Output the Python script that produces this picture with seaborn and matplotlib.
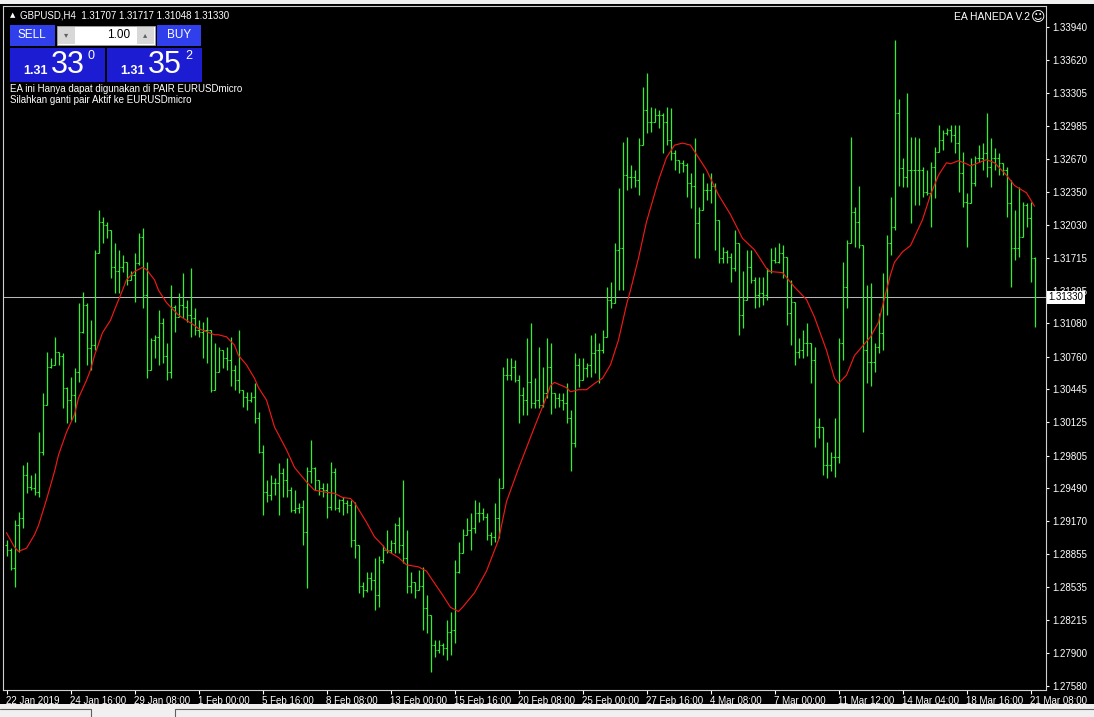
import numpy as np
import pandas as pd
import matplotlib
matplotlib.use("Agg")
import matplotlib.pyplot as plt
import matplotlib.transforms as mtransforms
from matplotlib.patches import Rectangle
from matplotlib.lines import Line2D
import seaborn as sns

# ---------------- data (GBPUSD H4) ----------------
close = [
    1.2889,1.2872,1.2913,1.2920,1.2962,1.2950,1.2949,1.2945,1.2984,1.3029,1.3066,1.3068,1.3080,1.3077,1.3046,1.3034,
    1.3039,1.3061,1.3100,1.3126,1.3084,1.3087,1.3176,1.3206,1.3203,1.3198,1.3162,1.3159,1.3162,1.3167,1.3150,1.3155,
    1.3166,1.3191,1.3135,1.3063,1.3092,1.3095,1.3108,1.3077,1.3061,1.3124,1.3114,1.3126,1.3124,1.3116,1.3113,1.3102,
    1.3100,1.3102,1.3102,1.3044,1.3061,1.3082,1.3075,1.3073,1.3063,1.3053,1.3044,1.3037,1.3034,1.3037,1.3017,1.2984,
    1.2945,1.2942,1.2954,1.2954,1.2964,1.2957,1.2947,1.2928,1.2930,1.2931,1.2907,1.2966,1.2968,1.2957,1.2949,1.2947,
    1.2931,1.2965,1.2930,1.2938,1.2935,1.2933,1.2899,1.2894,1.2855,1.2851,1.2862,1.2860,1.2846,1.2880,1.2889,1.2889,
    1.2896,1.2913,1.2894,1.2882,1.2855,1.2858,1.2851,1.2855,1.2833,1.2827,1.2798,1.2793,1.2798,1.2795,1.2810,1.2812,
    1.2868,1.2886,1.2904,1.2909,1.2911,1.2925,1.2925,1.2921,1.2904,1.2902,1.2920,1.2949,1.3058,1.3058,1.3066,1.3053,
    1.3039,1.3034,1.3051,1.3031,1.3034,1.3029,1.3041,1.3066,1.3041,1.3036,1.3034,1.3031,1.3017,1.2993,1.3068,1.3053,
    1.3065,1.3068,1.3079,1.3082,1.3082,1.3095,1.3131,1.3128,1.3179,1.3181,1.3251,1.3249,1.3249,1.3246,1.3280,1.3314,
    1.3302,1.3302,1.3309,1.3309,1.3302,1.3285,1.3272,1.3266,1.3263,1.3261,1.3243,1.3241,1.3205,1.3217,1.3237,1.3237,
    1.3241,1.3208,1.3171,1.3177,1.3172,1.3161,1.3186,1.3116,1.3131,1.3162,1.3150,1.3135,1.3137,1.3135,1.3159,1.3169,
    1.3167,1.3176,1.3172,1.3118,1.3129,1.3080,1.3082,1.3089,1.3089,1.3073,1.3008,1.3008,1.2971,1.2971,1.2979,1.2979,
    1.3089,1.3143,1.3186,1.3215,1.3206,1.3184,1.3082,1.3071,1.3071,1.3085,1.3099,1.3133,1.3186,1.3201,1.3311,1.3258,
    1.3249,1.3256,1.3256,1.3256,1.3256,1.3235,1.3234,1.3259,1.3273,1.3285,1.3292,1.3295,1.3290,1.3282,1.3253,1.3225,
    1.3224,1.3243,1.3268,1.3268,1.3272,1.3259,1.3268,1.3268,1.3263,1.3256,1.3224,1.3181,1.3181,1.3191,1.3222,1.3210,
    1.3171,1.31330,
]
open_ = [1.2894] + close[:-2] + [1.31707]

high = [
    1.2899,1.2891,1.2918,1.2926,1.2971,1.2974,1.2962,1.2964,1.3003,1.3041,1.3080,1.3075,1.3095,1.3080,1.3079,1.3047,
    1.3056,1.3065,1.3128,1.3138,1.3128,1.3111,1.3179,1.3217,1.3211,1.3206,1.3198,1.3186,1.3179,1.3174,1.3167,1.3159,
    1.3176,1.3195,1.3200,1.3167,1.3094,1.3097,1.3121,1.3113,1.3089,1.3145,1.3126,1.3137,1.3157,1.3131,1.3161,1.3123,
    1.3111,1.3109,1.3114,1.3102,1.3089,1.3085,1.3082,1.3085,1.3095,1.3068,1.3102,1.3044,1.3042,1.3042,1.3050,1.3022,
    1.2991,1.2957,1.2962,1.2959,1.2973,1.2968,1.2978,1.2950,1.2947,1.2935,1.2938,1.2969,1.2995,1.2969,1.2957,1.2954,
    1.2954,1.2974,1.2968,1.2939,1.2940,1.2938,1.2938,1.2936,1.2894,1.2858,1.2868,1.2868,1.2882,1.2884,1.2894,1.2909,
    1.2899,1.2915,1.2921,1.2957,1.2909,1.2868,1.2858,1.2870,1.2873,1.2846,1.2827,1.2802,1.2802,1.2800,1.2822,1.2829,
    1.2880,1.2897,1.2910,1.2920,1.2925,1.2938,1.2936,1.2930,1.2925,1.2907,1.2935,1.2959,1.3066,1.3075,1.3075,1.3073,
    1.3058,1.3047,1.3094,1.3108,1.3055,1.3085,1.3066,1.3094,1.3089,1.3041,1.3041,1.3041,1.3050,1.3024,1.3079,1.3075,
    1.3075,1.3070,1.3097,1.3099,1.3089,1.3102,1.3143,1.3148,1.3186,1.3239,1.3283,1.3288,1.3261,1.3256,1.3287,1.3336,
    1.3350,1.3317,1.3316,1.3314,1.3311,1.3317,1.3316,1.3275,1.3266,1.3266,1.3263,1.3253,1.3287,1.3220,1.3253,1.3243,
    1.3253,1.3243,1.3208,1.3182,1.3179,1.3176,1.3198,1.3186,1.3159,1.3179,1.3179,1.3153,1.3153,1.3153,1.3161,1.3181,
    1.3182,1.3186,1.3184,1.3172,1.3150,1.3129,1.3094,1.3102,1.3108,1.3089,1.3085,1.3017,1.3008,1.2994,1.2984,1.3017,
    1.3094,1.3167,1.3188,1.3288,1.3220,1.3241,1.3184,1.3145,1.3147,1.3089,1.3118,1.3157,1.3193,1.3230,1.3381,1.3325,
    1.3268,1.3330,1.3288,1.3288,1.3287,1.3259,1.3256,1.3264,1.3278,1.3299,1.3295,1.3297,1.3299,1.3299,1.3299,1.3273,
    1.3234,1.3268,1.3270,1.3280,1.3282,1.3311,1.3287,1.3277,1.3272,1.3263,1.3259,1.3246,1.3217,1.3240,1.3225,1.3224,
    1.3225,1.31717,
]

low = [
    1.2884,1.2870,1.2854,1.2887,1.2911,1.2944,1.2947,1.2942,1.2940,1.2981,1.3029,1.3065,1.3068,1.3068,1.3026,1.3012,
    1.3015,1.3013,1.3051,1.3099,1.3068,1.3063,1.3082,1.3176,1.3186,1.3190,1.3152,1.3137,1.3137,1.3158,1.3145,1.3150,
    1.3129,1.3164,1.3123,1.3055,1.3063,1.3075,1.3068,1.3070,1.3053,1.3055,1.3100,1.3114,1.3113,1.3109,1.3095,1.3097,
    1.3095,1.3075,1.3070,1.3042,1.3044,1.3061,1.3065,1.3063,1.3048,1.3044,1.3041,1.3027,1.3024,1.3032,1.3012,1.2983,
    1.2923,1.2936,1.2938,1.2942,1.2923,1.2940,1.2940,1.2926,1.2925,1.2925,1.2894,1.2853,1.2954,1.2947,1.2942,1.2940,
    1.2920,1.2928,1.2928,1.2926,1.2923,1.2925,1.2892,1.2882,1.2848,1.2844,1.2849,1.2851,1.2831,1.2834,1.2877,1.2886,
    1.2886,1.2886,1.2886,1.2877,1.2848,1.2848,1.2843,1.2851,1.2812,1.2809,1.2772,1.2786,1.2790,1.2788,1.2783,1.2788,
    1.2800,1.2867,1.2886,1.2904,1.2889,1.2906,1.2916,1.2918,1.2899,1.2894,1.2897,1.2901,1.2949,1.3053,1.3053,1.3051,
    1.3012,1.3020,1.3020,1.3026,1.3026,1.3026,1.3027,1.3036,1.3021,1.3026,1.3027,1.3024,1.3012,1.2966,1.2989,1.3047,
    1.3053,1.3056,1.3056,1.3060,1.3050,1.3079,1.3095,1.3123,1.3128,1.3140,1.3140,1.3237,1.3239,1.3240,1.3232,1.3280,
    1.3292,1.3293,1.3302,1.3297,1.3272,1.3280,1.3266,1.3256,1.3253,1.3254,1.3230,1.3219,1.3171,1.3171,1.3217,1.3227,
    1.3224,1.3179,1.3166,1.3166,1.3166,1.3148,1.3159,1.3097,1.3104,1.3131,1.3147,1.3123,1.3124,1.3126,1.3131,1.3157,
    1.3166,1.3166,1.3152,1.3106,1.3087,1.3068,1.3075,1.3075,1.3077,1.3050,1.2989,1.2997,1.2962,1.2959,1.2966,1.2960,
    1.2973,1.3073,1.3123,1.3186,1.3182,1.3181,1.3003,1.3050,1.3048,1.3061,1.3079,1.3082,1.3116,1.3174,1.3198,1.3241,
    1.3240,1.3240,1.3205,1.3222,1.3222,1.3230,1.3232,1.3201,1.3229,1.3273,1.3275,1.3290,1.3283,1.3272,1.3235,1.3220,
    1.3182,1.3224,1.3241,1.3264,1.3256,1.3249,1.3240,1.3256,1.3251,1.3251,1.3211,1.3143,1.3169,1.3172,1.3191,1.3201,
    1.3148,1.31048,
]

# moving average (red line), read at these bars
ma_bar = [0,2,3,5,7,8,10,12,13,15,17,18,20,21,22,24,26,27,29,30,32,33,34,35,37,38,40,42,43,45,
          47,48,50,52,53,55,57,58,60,62,63,65,67,70,72,75,77,80,82,84,86,87,90,92,94,95,98,100,103,105,
          106,109,111,113,114,117,120,123,125,128,130,132,135,136,137,140,141,143,145,147,149,151,153,155,156,158,160,163,165,167,
          169,171,173,175,178,181,184,187,190,191,194,197,200,202,205,207,208,210,212,214,216,218,220,221,222,224,226,229,231,233,
          235,236,238,240,241,243,245,247,250,252,255,257]
ma_val = [1.2906,1.2892,1.2888,1.2891,1.2904,1.2913,1.2938,1.2965,1.2981,1.3003,
          1.3020,1.3036,1.3053,1.3063,1.3077,1.3099,1.3111,1.3121,1.3140,1.3150,
          1.3158,1.3160,1.3162,1.3160,1.3150,1.3140,1.3128,1.3120,1.3116,1.3111,
          1.3106,1.3103,1.3100,1.3097,1.3097,1.3095,1.3087,1.3077,1.3068,1.3055,
          1.3046,1.3034,1.3008,1.2986,1.2969,1.2955,1.2947,1.2945,1.2944,1.2940,
          1.2939,1.2935,1.2916,1.2902,1.2894,1.2889,1.2882,1.2875,1.2873,1.2869,
          1.2863,1.2846,1.2834,1.2830,1.2834,1.2848,1.2869,1.2899,1.2936,1.2968,
          1.2988,1.3008,1.3037,1.3048,1.3051,1.3046,1.3042,1.3044,1.3044,1.3050,
          1.3055,1.3068,1.3092,1.3126,1.3140,1.3171,1.3206,1.3246,1.3268,1.3280,
          1.3282,1.3280,1.3268,1.3256,1.3232,1.3213,1.3190,1.3179,1.3161,1.3158,
          1.3157,1.3143,1.3131,1.3114,1.3082,1.3055,1.3050,1.3058,1.3077,1.3086,
          1.3095,1.3109,1.3140,1.3155,1.3167,1.3177,1.3183,1.3208,1.3232,1.3251,
          1.3263,1.3262,1.3265,1.3262,1.3260,1.3263,1.3266,1.3263,1.3251,1.3241,
          1.3234,1.3221]

bid_price = 1.31330
price_ticks = [1.33940,1.33620,1.33305,1.32985,1.32670,1.32350,1.32030,1.31715,1.31395,1.31080,
               1.30760,1.30445,1.30125,1.29805,1.29490,1.29170,1.28855,1.28535,1.28215,1.27900,1.27580]
date_tick_bars = [0,16,32,48,64,80,96,112,128,144,160,176,192,208,224,240,256]
date_tick_labels = ['22 Jan 2019','24 Jan 16:00','29 Jan 08:00','1 Feb 00:00','5 Feb 16:00','8 Feb 08:00',
                    '13 Feb 00:00','15 Feb 16:00','20 Feb 08:00','25 Feb 00:00','27 Feb 16:00','4 Mar 08:00',
                    '7 Mar 00:00','11 Mar 12:00','14 Mar 04:00','18 Mar 16:00','21 Mar 08:00']
header_text = 'GBPUSD,H4  1.31707 1.31717 1.31048 1.31330'
note_lines = ['EA ini Hanya dapat digunakan di PAIR EURUSDmicro',
              'Silahkan ganti pair Aktif ke EURUSDmicro']

# ---------------- style ----------------
sns.set_theme(style="dark", rc={"axes.facecolor": "black", "figure.facecolor": "black"})
plt.rcParams['font.family'] = ['Liberation Sans', 'DejaVu Sans']

W, H = 1094, 717
fig = plt.figure(figsize=(W / 100, H / 100), dpi=100, facecolor='black')

def fbox(x0, y0, x1, y1):
    return [x0 / W, 1 - y1 / H, (x1 - x0) / W, (y1 - y0) / H]

def frect(x0, y0, x1, y1, fc, ec='none', lw=0, z=5):
    r = Rectangle((x0 / W, 1 - y1 / H), (x1 - x0) / W, (y1 - y0) / H,
                  transform=fig.transFigure, facecolor=fc, edgecolor=ec, linewidth=lw, zorder=z)
    fig.add_artist(r)

def ftext(x, y, s, **kw):
    fig.text(x / W, 1 - y / H, s, **kw)

ax = fig.add_axes(fbox(3, 6, 1046, 690))
ax.set_facecolor('black')
ax.grid(False)

n = len(close)
idx = np.arange(n)
green = '#30f030'
lw1 = 0.9
ax.vlines(idx, low, high, colors=green, linewidth=lw1, antialiased=True, zorder=3)
ax.hlines(open_, idx - 0.375, idx, colors=green, linewidth=0.75, antialiased=True, zorder=3)
ax.hlines(close, idx, idx + 0.375, colors=green, linewidth=0.75, antialiased=True, zorder=3)

ma_df = pd.DataFrame({'bar': ma_bar, 'ma': ma_val})
sns.lineplot(data=ma_df, x='bar', y='ma', ax=ax, color='#f01818', linewidth=0.85,
             legend=False, zorder=4)

ax.axhline(bid_price, color='#b8b8b8', linewidth=0.75, zorder=2)

# limits: 4 px per bar, bars centred on pixel columns; 0.0000965 price per pixel
ax.set_xlim(-0.875, 259.875)
ax.set_ylim(1.275421, 1.341427)
ax.set_xlabel('')
ax.set_ylabel('')

for sp in ax.spines.values():
    sp.set_color('#d0d0d0')
    sp.set_linewidth(0.8)
    sp.set_visible(True)

ax.yaxis.tick_right()
ax.set_yticks(price_ticks)
ax.set_yticklabels(['%.5f' % v for v in price_ticks])
ax.set_xticks(date_tick_bars)
ax.set_xticklabels(date_tick_labels, ha='left')
ax.tick_params(axis='y', which='both', right=True, left=False, colors='white', labelcolor='white',
               length=2.5, width=0.8, pad=2, labelsize=7)
ax.tick_params(axis='x', which='both', bottom=True, colors='white', labelcolor='white',
               length=3, width=0.8, pad=1.0, labelsize=7)

# bid price label box on the axis
trans = mtransforms.blended_transform_factory(fig.transFigure, ax.transData)
fig.text(1048.5 / W, bid_price, '%.5f' % bid_price, transform=trans, va='center', ha='left',
         fontsize=7, color='black', zorder=10,
         bbox=dict(boxstyle='square,pad=0.18', fc='white', ec='none'))

# window chrome
frect(0, 0, W, 4, '#f0f0f0', z=1)
frect(0, 704, W, H, '#f0f0f0', z=1)
fig.add_artist(Line2D([0 / W, 91 / W, 91 / W], [1 - 709 / H, 1 - 709 / H, 0], transform=fig.transFigure,
                      color='#606060', linewidth=0.8))
fig.add_artist(Line2D([175 / W, 175 / W, W / W], [0, 1 - 709 / H, 1 - 709 / H], transform=fig.transFigure,
                      color='#606060', linewidth=0.8))

# header
ftext(10, 15, '▲', fontsize=5, color='white', va='center', family=['DejaVu Sans'])
ftext(20, 15, header_text, fontsize=7, color='white', va='center')

# one-click trading panel
frect(10, 25, 55, 46, '#2f3fec')
frect(157, 25, 201, 46, '#2f3fec')
frect(57, 26, 155, 45, '#ffffff', ec='#a0a0a0', lw=0.6)
frect(58, 27, 75, 44, '#d8d8d8')
frect(137, 27, 154, 44, '#d8d8d8')
ftext(66, 35, '▾', fontsize=6, color='#606060', va='center', ha='center', family=['DejaVu Sans'], zorder=6)
ftext(145, 35, '▴', fontsize=6, color='#606060', va='center', ha='center', family=['DejaVu Sans'], zorder=6)
ftext(130, 35.5, '1.00', fontsize=8.5, color='black', va='center', ha='right', zorder=6)
ftext(32, 35.5, 'SELL', fontsize=8.5, color='white', va='center', ha='center', zorder=6)
ftext(179, 35.5, 'BUY', fontsize=8.5, color='white', va='center', ha='center', zorder=6)

frect(10, 48, 105, 82, '#1c1cd2')
frect(107, 48, 202, 82, '#1c1cd2')
ftext(23, 71, '1.31', fontsize=9, fontweight='bold', color='white', va='center', ha='left', zorder=6)
ftext(51, 65, '33', fontsize=22, color='white', va='center', ha='left', zorder=6)
ftext(87, 56, '0', fontsize=9, color='white', va='center', ha='left', zorder=6)
ftext(120, 71, '1.31', fontsize=9, fontweight='bold', color='white', va='center', ha='left', zorder=6)
ftext(148, 65, '35', fontsize=22, color='white', va='center', ha='left', zorder=6)
ftext(185, 56, '2', fontsize=9, color='white', va='center', ha='left', zorder=6)

ftext(10, 89, note_lines[0], fontsize=7, color='white', va='center')
ftext(10, 100, note_lines[1], fontsize=7, color='white', va='center')

# EA label top right
ftext(1030, 17, 'EA HANEDA V.2', fontsize=7.5, color='white', va='center', ha='right')
ftext(1031, 17, '☺', fontsize=10, color='white', va='center', ha='left', family=['DejaVu Sans'])

fig.savefig('out.png', dpi=100, facecolor='black')
